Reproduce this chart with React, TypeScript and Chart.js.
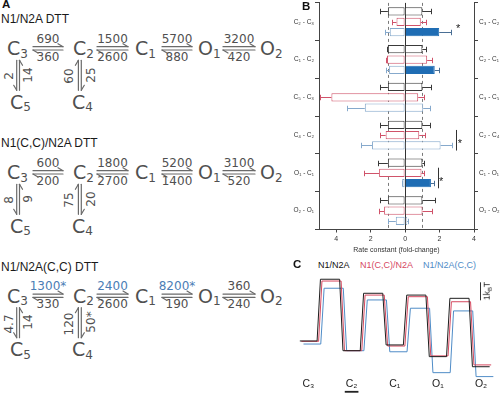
import React, { useEffect, useRef } from 'react';
import { Chart, registerables } from 'chart.js';

Chart.register(...registerables);

const FONT = "'Liberation Sans', Arial, Helvetica, sans-serif";
const SCHEME_FONT = "'DejaVu Sans', Verdana, sans-serif";
Chart.defaults.font.family = FONT;
Chart.defaults.color = '#333';

/* ---------------- Panel A: kinetic schemes (text) ---------------- */
const schemeTitles = ['N1/N2A DTT', 'N1(C,C)/N2A DTT', 'N1/N2A(C,C) DTT'];
const schemeMainStates = [['C', '3'], ['C', '2'], ['C', '1'], ['O', '1'], ['O', '2']];
const schemeSideStates = [['C', '5'], ['C', '4']];
const forwardRates = [
  ['690', '1500', '5700', '3200'],
  ['600', '1800', '5200', '3100'],
  ['1300*', '2400', '8200*', '360'],
];
const backwardRates = [
  ['360', '2600', '880', '420'],
  ['200', '2700', '1400', '520'],
  ['330', '2600', '190', '240'],
];
const forwardHighlighted = [
  [false, false, false, false],
  [false, false, false, false],
  [true, true, true, false],
];
const c3c5Rates = [['2', '14'], ['8', '9'], ['4.7', '14']];
const c2c4Rates = [['60', '25'], ['75', '20'], ['120', '50*']];

/* ---------------- Panel B: fold-change bars ---------------- */
const groupsLeft = ['C₂ - C₃', 'C₁ - C₂', 'C₅ - C₃', 'C₄ - C₂', 'O₁ - C₁', 'O₂ - O₁'];
const groupsRight = ['C₃ - C₂', 'C₂ - C₁', 'C₃ - C₅', 'C₂ - C₄', 'C₁ - O₁', 'O₁ - O₂'];
const xTickValues = [-4, -2, 0, 2, 4];
const refFold = [-1, 1];

const wtLeft = [1, 1, 1, 1, 1, 1];
const wtRight = [1, 1, 1, 1, 1, 1];
const wtErrLeft = [1.44, 1.05, 1.47, 1.44, 1.55, 1.47];
const wtErrRight = [1.5, 1.24, 1.53, 1.44, 1.12, 1.72];

const ccN1Left = [0.5, 1.05, 4.28, 1.13, 1.51, 1.22];
const ccN1Right = [0.91, 1.28, 0.76, 0.82, 0.95, 1.01];
const ccN1ErrLeft = [0.76, 1.09, 4.95, 1.48, 2.38, 1.53];
const ccN1ErrRight = [1.24, 1.55, 1.09, 1.15, 1.09, 1.59];

const ccN2ALeft = [0.89, 0.93, 2.34, 1.92, 0.17, 0.54];
const ccN2ARight = [1.98, 1.72, 1.05, 2.06, 1.5, 0.12];
const ccN2AErrLeft = [1.18, 1.09, 3.35, 2.54, 0.2, 0.99];
const ccN2AErrRight = [2.64, 1.94, 1.43, 2.74, 1.65, 0.17];
const ccN2AFilled = [true, true, false, false, true, false];

const starred = [true, false, false, true, true, false];
const bracketed = [false, false, false, true, true, false];

/* ---------------- Panel C: energy landscapes ---------------- */
const cStateLabels = ['C₃', 'C₂', 'C₁', 'O₁', 'O₂'];
const underlinedState = 'C₂';
const wellsWT = [0.54, 0, 0.32, -0.33, -0.89];
const wellsCCN1 = [0.52, 0, 0.26, -0.29, -0.79];
const wellsCCN2A = [0.37, 0, -0.06, -1.22, -1.44];
const barriersWT = [3.97, 3.19, 3.09, 2.91];
const barriersCCN1 = [3.87, 3.09, 3.0, 2.72];
const barriersCCN2A = [3.47, 2.82, 2.36, 2.21];
const scaleBarKBT = 1;

const BLACK = '#3a3a3a';
const RED = '#d0536a';
const BLUE_LIGHT = '#86a9cc';
const BLUE_FILL = '#1f6db4';
const LINE_BLACK = '#1e1e1e';
const LINE_RED = '#d6485f';
const LINE_BLUE = '#4f8cc7';

const seriesB = [
  { name: 'N1/N2A', left: wtLeft, right: wtRight, errLeft: wtErrLeft, errRight: wtErrRight, color: BLACK, filled: null as null | boolean[] },
  { name: 'N1(C,C)/N2A', left: ccN1Left, right: ccN1Right, errLeft: ccN1ErrLeft, errRight: ccN1ErrRight, color: RED, filled: null as null | boolean[] },
  { name: 'N1/N2A(C,C)', left: ccN2ALeft, right: ccN2ARight, errLeft: ccN2AErrLeft, errRight: ccN2AErrRight, color: BLUE_LIGHT, filled: ccN2AFilled },
];

/* ================= Panel A ================= */
const STATE_X = [7, 73, 135, 198, 260];
const ARROW_SPANS = [[33, 63], [97, 128], [162, 192], [223, 255]];
const BLOCK_Y = [19.3, 143.3, 266.7];
const TEXT_GRAY = '#505050';
const LINE_GRAY = '#6a6a6a';
const HILITE = '#4b7db5';

function StateText({ s, x, y }: any) {
  return (
    <div style={{ position: 'absolute', left: x, top: y, transform: 'translateY(-50%)', fontFamily: SCHEME_FONT, fontSize: 19, lineHeight: 1, color: TEXT_GRAY, whiteSpace: 'nowrap' }}>
      {s[0]}
      <span style={{ fontSize: 12, position: 'relative', top: 2.5 }}>{s[1]}</span>
    </div>
  );
}

function RateText({ t, x, y, rot, color }: any) {
  return (
    <div style={{ position: 'absolute', left: x, top: y, transform: `translate(-50%,-50%)${rot ? ' rotate(-90deg)' : ''}`, fontFamily: SCHEME_FONT, fontSize: 12, lineHeight: 1, color: color || TEXT_GRAY, whiteSpace: 'nowrap' }}>
      {t}
    </div>
  );
}

function PanelA() {
  const texts: any[] = [];
  const lines: any[] = [];
  BLOCK_Y.forEach((y0, b) => {
    const rowY = y0 + 29;
    texts.push(
      <div key={`h${b}`} style={{ position: 'absolute', left: 1, top: y0, transform: 'translateY(-50%)', fontFamily: FONT, fontSize: 12, lineHeight: 1, color: '#1a1a1a', whiteSpace: 'nowrap' }}>
        {schemeTitles[b]}
      </div>
    );
    schemeMainStates.forEach((s, i) => texts.push(<StateText key={`s${b}${i}`} s={s} x={STATE_X[i]} y={rowY} />));
    texts.push(<StateText key={`c5${b}`} s={schemeSideStates[0]} x={10} y={rowY + 53.4} />);
    texts.push(<StateText key={`c4${b}`} s={schemeSideStates[1]} x={72} y={rowY + 53.4} />);
    ARROW_SPANS.forEach(([x1, x2], i) => {
      const cx = (x1 + x2) / 2;
      texts.push(<RateText key={`f${b}${i}`} t={forwardRates[b][i]} x={cx} y={rowY - 9.3} color={forwardHighlighted[b][i] ? HILITE : undefined} />);
      texts.push(<RateText key={`r${b}${i}`} t={backwardRates[b][i]} x={cx} y={rowY + 8.6} />);
      const yt = rowY - 1.6;
      const yb = rowY + 1.7;
      lines.push(<line key={`a${b}${i}1`} x1={x1} y1={yt} x2={x2} y2={yt} />);
      lines.push(<line key={`a${b}${i}2`} x1={x2} y1={yt} x2={x2 - 5} y2={yt - 3} />);
      lines.push(<line key={`a${b}${i}3`} x1={x1} y1={yb} x2={x2} y2={yb} />);
      lines.push(<line key={`a${b}${i}4`} x1={x1} y1={yb} x2={x1 + 5} y2={yb + 3} />);
    });
    const vTop = rowY + 12;
    const vBot = rowY + 42;
    lines.push(<line key={`v${b}1`} x1={16.7} y1={vTop} x2={16.7} y2={vBot} />);
    lines.push(<line key={`v${b}2`} x1={16.7} y1={vBot} x2={13.7} y2={vBot - 5} />);
    lines.push(<line key={`v${b}3`} x1={19.5} y1={vTop} x2={19.5} y2={vBot} />);
    lines.push(<line key={`v${b}4`} x1={19.5} y1={vTop} x2={22.5} y2={vTop + 5} />);
    lines.push(<line key={`w${b}1`} x1={78.4} y1={vTop} x2={78.4} y2={vBot} />);
    lines.push(<line key={`w${b}2`} x1={78.4} y1={vTop} x2={75.4} y2={vTop + 5} />);
    lines.push(<line key={`w${b}3`} x1={81.3} y1={vTop} x2={81.3} y2={vBot} />);
    lines.push(<line key={`w${b}4`} x1={81.3} y1={vBot} x2={84.3} y2={vBot - 5} />);
    texts.push(<RateText key={`vl${b}`} t={c3c5Rates[b][0]} x={8.5} y={rowY + 28} rot />);
    texts.push(<RateText key={`vr${b}`} t={c3c5Rates[b][1]} x={27.5} y={rowY + 26.5} rot />);
    texts.push(<RateText key={`wl${b}`} t={c2c4Rates[b][0]} x={69} y={rowY + 28} rot />);
    texts.push(<RateText key={`wr${b}`} t={c2c4Rates[b][1]} x={91} y={rowY + 26.5} rot />);
  });
  return (
    <>
      <div style={{ position: 'absolute', left: 2, top: -1.5, fontFamily: FONT, fontWeight: 'bold', fontSize: 11.5, lineHeight: 1, color: '#111' }}>A</div>
      <svg width={300} height={394} style={{ position: 'absolute', left: 0, top: 0 }}>
        <g stroke={LINE_GRAY} strokeWidth={1.2} strokeLinecap="round">{lines}</g>
      </svg>
      {texts}
    </>
  );
}

/* ================= Panel B ================= */
const refLinesPlugin = {
  id: 'refLines',
  beforeDatasetsDraw(chart: any) {
    const { ctx, chartArea } = chart;
    const xs = chart.scales.x;
    ctx.save();
    ctx.lineWidth = 1;
    ctx.strokeStyle = '#7a7a7a';
    ctx.setLineDash([3, 3]);
    refFold.forEach((v) => {
      const px = Math.round(xs.getPixelForValue(v)) + 0.5;
      ctx.beginPath();
      ctx.moveTo(px, chartArea.top);
      ctx.lineTo(px, chartArea.bottom);
      ctx.stroke();
    });
    ctx.setLineDash([]);
    ctx.strokeStyle = '#333';
    const z = Math.round(xs.getPixelForValue(0)) + 0.5;
    ctx.beginPath();
    ctx.moveTo(z, chartArea.top);
    ctx.lineTo(z, chartArea.bottom);
    ctx.stroke();
    ctx.restore();
  },
};

const whiskerPlugin = {
  id: 'whiskers',
  afterDatasetsDraw(chart: any) {
    const { ctx } = chart;
    const xs = chart.scales.x;
    ctx.save();
    ctx.lineWidth = 1;
    seriesB.forEach((s, si) => {
      const negMeta = chart.getDatasetMeta(si * 2);
      groupsRight.forEach((_, gi) => {
        const el = negMeta.data[gi];
        const y = Math.round(el.y) + 0.5;
        const cap = el.height * 0.33;
        const draw = (from: number, to: number, color: string) => {
          const p1 = xs.getPixelForValue(from);
          const p2 = Math.round(xs.getPixelForValue(to)) + 0.5;
          ctx.strokeStyle = color;
          ctx.beginPath();
          ctx.moveTo(p1, y);
          ctx.lineTo(p2, y);
          ctx.moveTo(p2, y - cap);
          ctx.lineTo(p2, y + cap);
          ctx.stroke();
        };
        draw(-s.left[gi], -s.errLeft[gi], s.color);
        draw(s.right[gi], s.errRight[gi], s.filled && s.filled[gi] ? '#4a6f95' : s.color);
      });
    });
    const red = seriesB[1];
    const blue = seriesB[2];
    starred.forEach((st, gi) => {
      if (!st) return;
      const redEl = chart.getDatasetMeta(3).data[gi];
      const blueEl = chart.getDatasetMeta(5).data[gi];
      const maxErr = bracketed[gi] ? Math.max(red.errRight[gi], blue.errRight[gi]) : blue.errRight[gi];
      const base = xs.getPixelForValue(maxErr);
      let target;
      if (bracketed[gi]) {
        const top = redEl.y - redEl.height / 2 - 1;
        const bot = blueEl.y + blueEl.height / 2 + 1;
        const bx = Math.round(base + 4) + 0.5;
        ctx.strokeStyle = '#333';
        ctx.beginPath();
        ctx.moveTo(bx, top);
        ctx.lineTo(bx, bot);
        ctx.stroke();
        target = (top + bot) / 2 + 1;
      } else {
        target = blueEl.y - 5.5;
      }
      ctx.fillStyle = '#222';
      ctx.font = `11px ${FONT}`;
      ctx.textAlign = 'center';
      ctx.textBaseline = 'middle';
      ctx.fillText('*', base + 7.5, target + 2.5);
    });
    ctx.restore();
  },
};

function PanelB() {
  const ref = useRef<HTMLCanvasElement>(null);
  useEffect(() => {
    const datasets: any[] = [];
    seriesB.forEach((s, i) => {
      datasets.push({
        label: s.name,
        data: s.left.map((v) => [-v, 0]),
        stack: 's' + i,
        backgroundColor: '#ffffff',
        borderColor: s.color,
        borderWidth: { top: 1, bottom: 1, left: 1, right: 1 },
        borderSkipped: false,
      });
      datasets.push({
        label: s.name,
        data: s.right.map((v) => [0, v]),
        stack: 's' + i,
        backgroundColor: s.filled ? s.filled.map((f) => (f ? BLUE_FILL : '#ffffff')) : '#ffffff',
        borderColor: s.filled ? s.filled.map((f) => (f ? BLUE_FILL : s.color)) : s.color,
        borderWidth: { top: 1, bottom: 1, left: 0, right: 1 },
        borderSkipped: false,
      });
    });
    const chart = new Chart(ref.current as HTMLCanvasElement, {
      type: 'bar',
      data: { labels: groupsLeft, datasets },
      options: {
        indexAxis: 'y',
        responsive: false,
        maintainAspectRatio: false,
        animation: false,
        events: [],
        categoryPercentage: 0.82,
        barPercentage: 0.8,
        layout: { padding: { top: 4, left: 0, right: 0, bottom: 0 } },
        plugins: { legend: { display: false }, tooltip: { enabled: false } },
        scales: {
          x: {
            type: 'linear',
            min: -5,
            max: 4,
            afterBuildTicks: (sc: any) => {
              sc.ticks = xTickValues.map((v) => ({ value: v }));
            },
            afterFit: (sc: any) => {
              sc.height = 26.5;
            },
            ticks: {
              font: { size: 7 },
              color: '#333',
              padding: 2,
              maxRotation: 0,
              callback: (v: any) => String(Math.abs(Number(v))),
            },
            grid: { drawOnChartArea: false, tickLength: 3, color: '#444' },
            border: { display: true, color: '#444', width: 1 },
            title: { display: true, text: 'Rate constant (fold-change)', font: { size: 7 }, color: '#333', padding: { top: 0, bottom: 2 } },
          },
          y: {
            type: 'category',
            position: 'left',
            offset: true,
            afterFit: (sc: any) => {
              sc.width = 29;
            },
            ticks: { font: { size: 6.5 }, color: '#333', padding: 1, autoSkip: false },
            grid: { drawOnChartArea: false, tickLength: 4, color: '#444', offset: true },
            border: { display: true, color: '#444', width: 1 },
          },
          y2: {
            type: 'category',
            position: 'right',
            labels: groupsRight,
            offset: true,
            afterFit: (sc: any) => {
              sc.width = 26;
            },
            ticks: { font: { size: 6.5 }, color: '#333', padding: 1, autoSkip: false },
            grid: { drawOnChartArea: false, tickLength: 4, color: '#444', offset: true },
            border: { display: true, color: '#444', width: 1 },
          },
        },
      } as any,
      plugins: [refLinesPlugin, whiskerPlugin],
    });
    return () => chart.destroy();
  }, []);
  return (
    <>
      <canvas ref={ref} width={210} height={258} style={{ position: 'absolute', left: 290, top: -2, width: 210, height: 258 }} />
      <div style={{ position: 'absolute', left: 302, top: 1, fontFamily: FONT, fontWeight: 'bold', fontSize: 11.5, lineHeight: 1, color: '#111' }}>B</div>
    </>
  );
}

/* ================= Panel C ================= */
const WELL_HALF = 0.2;
const PEAK_HALF = 0.222;

function profile(wells: number[], barriers: number[], shift: number) {
  const pts: { x: number; y: number }[] = [];
  wells.forEach((g, i) => {
    pts.push({ x: i - WELL_HALF + shift, y: g }, { x: i + WELL_HALF + shift, y: g });
    if (i < barriers.length) {
      pts.push({ x: i + 0.5 - PEAK_HALF + shift, y: barriers[i] }, { x: i + 0.5 + PEAK_HALF + shift, y: barriers[i] });
    }
  });
  return pts;
}

const cDecorPlugin = {
  id: 'cDecor',
  afterDraw(chart: any) {
    const { ctx, chartArea } = chart;
    const xs = chart.scales.x;
    const ys = chart.scales.y;
    ctx.save();
    const i = cStateLabels.indexOf(underlinedState);
    ctx.font = `10.5px ${FONT}`;
    const w = ctx.measureText(cStateLabels[i]).width;
    const cx = xs.getPixelForValue(i);
    ctx.fillStyle = '#222';
    ctx.fillRect(cx - w / 2 - 1, chartArea.bottom + 13.2, w + 2, 1.8);
    const bx = Math.round(chartArea.right - 18) + 0.5;
    const topVal = 3.8;
    ctx.strokeStyle = '#333';
    ctx.lineWidth = 1;
    ctx.beginPath();
    ctx.moveTo(bx, ys.getPixelForValue(topVal));
    ctx.lineTo(bx, ys.getPixelForValue(topVal - scaleBarKBT));
    ctx.stroke();
    ctx.restore();
  },
};

function PanelC() {
  const ref = useRef<HTMLCanvasElement>(null);
  useEffect(() => {
    const mk = (label: string, data: any, color: string) => ({
      label,
      data,
      showLine: true,
      pointRadius: 0,
      borderWidth: 1,
      borderColor: color,
      backgroundColor: color,
      fill: false,
      tension: 0,
    });
    const chart = new Chart(ref.current as HTMLCanvasElement, {
      type: 'scatter',
      data: {
        datasets: [
          mk('N1/N2A', profile(wellsWT, barriersWT, 0), LINE_BLACK),
          mk('N1(C,C)/N2A', profile(wellsCCN1, barriersCCN1, 0.035), LINE_RED),
          mk('N1/N2A(C,C)', profile(wellsCCN2A, barriersCCN2A, 0.085), LINE_BLUE),
        ],
      },
      options: {
        responsive: false,
        maintainAspectRatio: false,
        animation: false,
        events: [],
        layout: { padding: { top: 5.1, left: 1.2, right: 1.7, bottom: 0 } },
        plugins: { legend: { display: false }, tooltip: { enabled: false } },
        scales: {
          x: {
            type: 'linear',
            min: -0.4,
            max: 4.4,
            afterBuildTicks: (sc: any) => {
              sc.ticks = cStateLabels.map((_, i) => ({ value: i }));
            },
            afterFit: (sc: any) => {
              sc.height = 16.3;
            },
            ticks: {
              font: { size: 10.5 },
              color: '#222',
              padding: 0,
              maxRotation: 0,
              autoSkip: false,
              callback: (_v: any, idx: number) => cStateLabels[idx],
            },
            grid: { display: false, drawTicks: false, tickLength: 0 },
            border: { display: false },
          },
          y: { type: 'linear', display: false, min: -1.5, max: 4.2 },
        },
      } as any,
      plugins: [cDecorPlugin],
    });
    return () => chart.destroy();
  }, []);
  return (
    <>
      <div style={{ position: 'absolute', left: 293, top: 265, transform: 'translateY(-50%)', fontFamily: FONT, fontWeight: 'bold', fontSize: 11.5, lineHeight: 1, color: '#111' }}>C</div>
      <div style={{ position: 'absolute', left: 318, top: 265, transform: 'translateY(-50%)', fontFamily: FONT, fontSize: 9, lineHeight: 1, color: '#111', whiteSpace: 'nowrap' }}>N1/N2A</div>
      <div style={{ position: 'absolute', left: 360, top: 265, transform: 'translateY(-50%)', fontFamily: FONT, fontSize: 9, lineHeight: 1, color: LINE_RED, whiteSpace: 'nowrap' }}>N1(C,C)/N2A</div>
      <div style={{ position: 'absolute', left: 423, top: 265, transform: 'translateY(-50%)', fontFamily: FONT, fontSize: 9, lineHeight: 1, color: LINE_BLUE, whiteSpace: 'nowrap' }}>N1/N2A(C,C)</div>
      <canvas ref={ref} width={210} height={124} style={{ position: 'absolute', left: 290, top: 270, width: 210, height: 124 }} />
      <div style={{ position: 'absolute', left: 487, top: 291, transform: 'translate(-50%,-50%) rotate(-90deg)', fontFamily: FONT, fontSize: 8.5, lineHeight: 1, color: '#222', whiteSpace: 'nowrap' }}>
        1k<span style={{ fontSize: 6, position: 'relative', top: 1.5 }}>B</span>T
      </div>
    </>
  );
}

export default function App() {
  return (
    <div style={{ position: 'fixed', left: 0, top: 0, width: 500, height: 394, overflow: 'hidden', background: '#fff' }}>
      <PanelA />
      <PanelB />
      <PanelC />
    </div>
  );
}
